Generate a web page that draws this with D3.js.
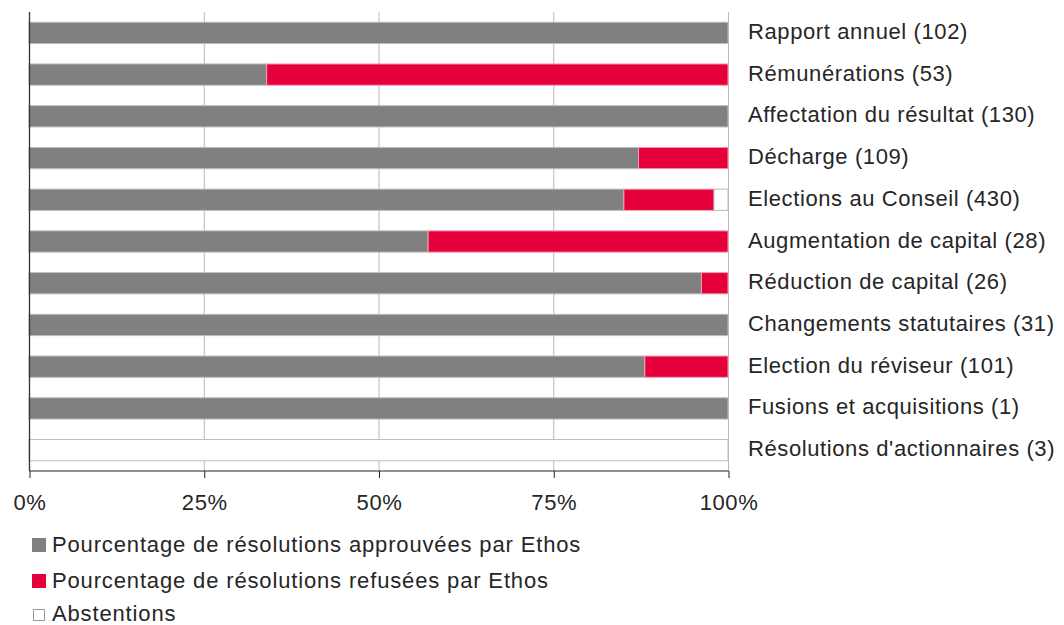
<!DOCTYPE html>
<html>
<head>
<meta charset="utf-8">
<script src="https://cdn.jsdelivr.net/npm/d3@7"></script>
<style>
	body { margin: 0; background: #fff; }
	text { font-family: "Liberation Sans", Arial, sans-serif; font-size: 22px; letter-spacing: 0.6px; fill: #262626; }
	.legend text { letter-spacing: 0.85px; }
</style>
</head>
<body>
<div id="chart"></div>
<script>
let categories = [
	'Rapport annuel (102)',
	'Rémunérations (53)',
	'Affectation du résultat (130)',
	'Décharge (109)',
	'Elections au Conseil (430)',
	'Augmentation de capital (28)',
	'Réduction de capital (26)',
	'Changements statutaires (31)',
	'Election du réviseur (101)',
	'Fusions et acquisitions (1)',
	"Résolutions d'actionnaires (3)"
];

let approved  = [100, 34.0, 100, 87.2, 85.1, 57.1, 96.2, 100, 88.1, 100, 0];
let refused   = [0, 66.0, 0, 12.8, 12.9, 42.9, 3.8, 0, 11.9, 0, 0];
let abstained = [0, 0, 0, 0, 2.0, 0, 0, 0, 0, 0, 100];

let seriesNames = [
	'Pourcentage de résolutions approuvées par Ethos',
	'Pourcentage de résolutions refusées par Ethos',
	'Abstentions'
];
let seriesColors = ['#808080', '#e5003b', '#ffffff'];

let tickValues = [0, 25, 50, 75, 100];

let width = 1064, height = 625;
let plotLeft = 29, plotRight = 728, plotTop = 12, plotBottom = 471;

let svg = d3.select('#chart').append('svg')
	.attr('width', width)
	.attr('height', height);

let x = d3.scaleLinear()
	.domain([0, 100])
	.range([plotLeft, plotRight]);

let y = d3.scaleBand()
	.domain(categories)
	.range([plotTop, plotBottom])
	.paddingInner(0.49)
	.paddingOuter(0.245);

// grid lines
svg.append('g')
	.selectAll('line')
	.data(tickValues.slice(1))
	.enter()
	.append('line')
	.attr('x1', d => x(d) + 0.5)
	.attr('x2', d => x(d) + 0.5)
	.attr('y1', plotTop)
	.attr('y2', plotBottom)
	.attr('stroke', '#b8b8b8')
	.attr('stroke-width', 1);

// stacked data
let rows = categories.map((c, i) => {
	let vals = [approved[i], refused[i], abstained[i]];
	let start = 0;
	return vals.map((v, k) => {
		let seg = {cat: c, k: k, x0: start, x1: start + v};
		start += v;
		return seg;
	}).filter(s => s.x1 > s.x0);
});

svg.append('g')
	.selectAll('rect')
	.data(rows.flat())
	.enter()
	.append('rect')
	.attr('x', d => x(d.x0))
	.attr('y', d => y(d.cat))
	.attr('width', d => x(d.x1) - x(d.x0))
	.attr('height', y.bandwidth())
	.attr('fill', d => seriesColors[d.k])
	.attr('stroke', d => d.k == 1 ? '#f0a0b0' : '#bdbdbd')
	.attr('stroke-width', 1);

// category labels
svg.append('g')
	.selectAll('text')
	.data(categories)
	.enter()
	.append('text')
	.attr('x', 748)
	.attr('y', d => y(d) + y.bandwidth() / 2 + 6)
	.text(d => d);

// left axis line
svg.append('line')
	.attr('x1', plotLeft + 0.5)
	.attr('x2', plotLeft + 0.5)
	.attr('y1', plotTop)
	.attr('y2', plotBottom)
	.attr('stroke', '#333')
	.attr('stroke-width', 1.3);

// bottom axis
let xAxis = d3.axisBottom(x)
	.tickValues(tickValues)
	.tickSize(7)
	.tickFormat(d => d + '%');

let ax = svg.append('g')
	.attr('transform', `translate(0.5, ${plotBottom})`)
	.call(xAxis);

ax.select('.domain').attr('stroke', '#222').attr('d', `M${plotLeft},0H${plotRight}`);
ax.selectAll('.tick line').attr('stroke', '#222');
ax.selectAll('.tick text')
	.attr('y', 39)
	.attr('dy', null)
	.attr('font-size', null)
	.attr('font-family', null)
	.attr('fill', null);

// legend
let legend = svg.append('g')
	.attr('class', 'legend')
	.selectAll('g')
	.data(seriesNames)
	.enter()
	.append('g')
	.attr('transform', (d, i) => `translate(0, ${[552, 588, 621][i]})`);

legend.append('rect')
	.attr('x', (d, i) => i == 2 ? 33.5 : 32)
	.attr('y', (d, i) => i == 2 ? -11.5 : -14)
	.attr('width', (d, i) => i == 2 ? 11 : 14)
	.attr('height', (d, i) => i == 2 ? 11 : 14)
	.attr('fill', (d, i) => seriesColors[i])
	.attr('stroke', (d, i) => i == 2 ? '#999' : 'none');

legend.append('text')
	.attr('x', 52)
	.attr('y', 0)
	.text(d => d);
</script>
</body>
</html>
